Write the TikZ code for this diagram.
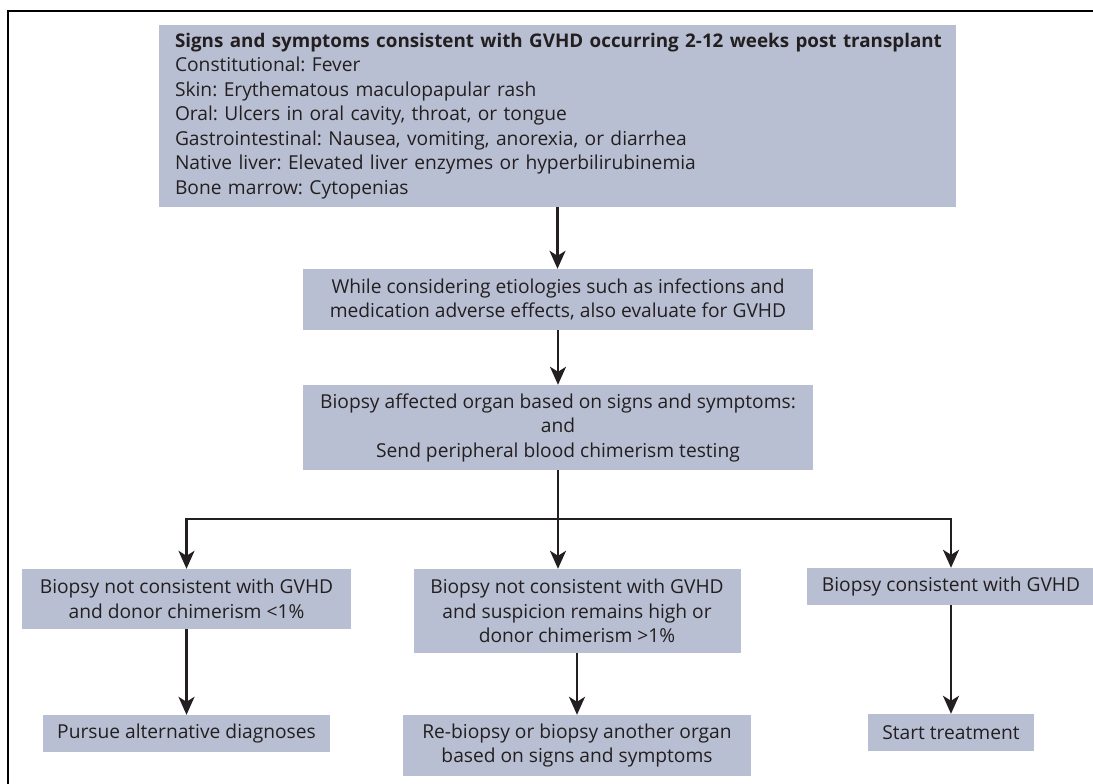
\documentclass[tikz,border=0pt]{standalone}
\usepackage{fontspec}
\setmainfont{Open Sans}
\usetikzlibrary{arrows.meta}
\usetikzlibrary{positioning}
\definecolor{boxfill}{RGB}{185,191,211}
\definecolor{ink}{RGB}{35,31,32}
\tikzset{box/.style = {fill=boxfill, text=ink, inner sep=0pt, align=center,
                       font=\fontsize{19.2}{24.5}\selectfont\frenchspacing},
         flow/.style = {draw=ink, line width=2.4pt,
                        -{Stealth[length=18pt, width=16pt, inset=5pt]}}}

\begin{document}
\begin{tikzpicture}[x=1pt, y=-1pt]
      \useasboundingbox (0,0) rectangle (1093,784);
      \draw [line width=1.5pt] (8,784) -- (8,11) -- (1093,11);
      \node [box, minimum width=797pt, minimum height=182pt, text width=765pt, align=left] (signs) at (557.5,116)
        {\mbox{\fontsize{18.8}{24.5}\selectfont\bfseries Signs and symptoms consistent with GVHD occurring 2-12 weeks post transplant}\\
         Constitutional: Fever\\
         Skin: Erythematous maculopapular rash\\
         Oral: Ulcers in oral cavity, throat, or tongue\\
         Gastrointestinal: Nausea, vomiting, anorexia, or diarrhea\\
         Native liver: Elevated liver enzymes or hyperbilirubinemia\\
         Bone marrow: Cytopenias};
      \node [box, minimum width=510pt, minimum height=61pt] (consider) at (558,299.5)
        {While considering etiologies such as infections and\\medication adverse effects, also evaluate for GVHD};
      \node [box, minimum width=510pt, minimum height=85pt] (biopsy) at (558,427.5)
        {Biopsy affected organ based on signs and symptoms:\\and\\Send peripheral blood chimerism testing};
      \node [box, minimum width=329pt, minimum height=60pt] (negative) at (186.5,599)
        {Biopsy not consistent with GVHD\\and donor chimerism <1\%};
      \node [box, minimum width=327pt, minimum height=84pt] (suspect) at (577,611)
        {Biopsy not consistent with GVHD\\and suspicion remains high or\\donor chimerism >1\%};
      \node [box, minimum width=288pt, minimum height=37pt] (positive) at (951,586.5)
        {Biopsy consistent with GVHD};
      \node [box, minimum width=287pt, minimum height=37pt] (pursue) at (186.5,733.5)
        {Pursue alternative diagnoses};
      \node [box, minimum width=348pt, minimum height=61pt] (rebiopsy) at (577,745.5)
        {Re-biopsy or biopsy another organ\\based on signs and symptoms};
      \node [box, minimum width=166pt, minimum height=37pt] (treat) at (951,732.5)
        {Start treatment};
      \coordinate (split) at (558,519);
      \draw [flow] (signs.south) -- (signs.south |- consider.north);
      \draw [flow] (consider) -- (biopsy);
      \draw [flow] (biopsy.south) -- (biopsy.south |- suspect.north);
      \draw [flow] (split) -| (negative.north);
      \draw [flow] (split) -| (positive.north);
      \draw [flow] (negative) -- (pursue);
      \draw [flow] (suspect) -- (rebiopsy);
      \draw [flow] (positive) -- (treat);
\end{tikzpicture}
\end{document}
